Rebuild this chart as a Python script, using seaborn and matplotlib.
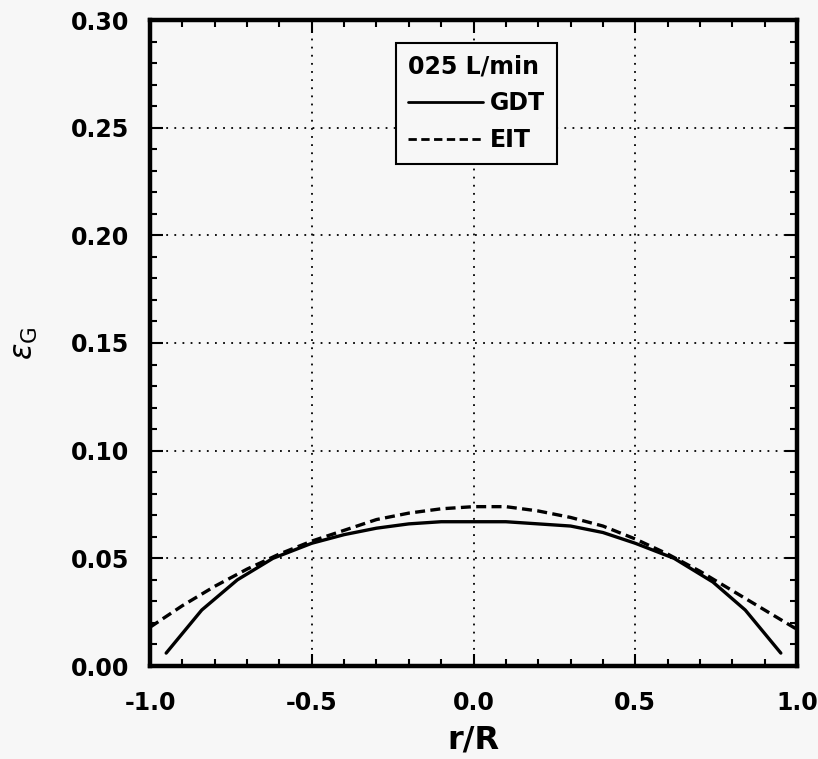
import numpy as np
import pandas as pd
import matplotlib
matplotlib.use("Agg")
import matplotlib.pyplot as plt
import seaborn as sns
from matplotlib.ticker import MultipleLocator
from matplotlib.lines import Line2D

sns.set_theme(style="ticks")
plt.rcParams['font.family'] = ['DejaVu Sans']
plt.rcParams['mathtext.fontset'] = 'dejavusans'
for k in ['text.color', 'axes.labelcolor', 'xtick.color', 'ytick.color', 'axes.edgecolor']:
    plt.rcParams[k] = 'black'

gdt_r = [-0.95, -0.84, -0.73, -0.62, -0.5, -0.4, -0.3, -0.2, -0.1, 0.0, 0.1, 0.2, 0.3, 0.4, 0.5, 0.62, 0.74, 0.84, 0.95]
gdt_eps = [0.006, 0.026, 0.040, 0.050, 0.057, 0.061, 0.064, 0.066, 0.067, 0.067, 0.067, 0.066, 0.065, 0.062, 0.057, 0.050, 0.039, 0.026, 0.006]

eit_r = [-1.0, -0.9, -0.8, -0.7, -0.6, -0.5, -0.4, -0.3, -0.2, -0.1, 0.0, 0.1, 0.2, 0.3, 0.4, 0.5, 0.6, 0.7, 0.8, 0.9, 1.0]
eit_eps = [0.018, 0.028, 0.037, 0.045, 0.052, 0.058, 0.063, 0.068, 0.071, 0.073, 0.074, 0.074, 0.072, 0.069, 0.065, 0.059, 0.052, 0.044, 0.035, 0.026, 0.017]

x_ticks = [-1.0, -0.5, 0.0, 0.5, 1.0]
y_ticks = [0.00, 0.05, 0.10, 0.15, 0.20, 0.25, 0.30]

df = pd.concat([
    pd.DataFrame({'r': gdt_r, 'eps': gdt_eps, 'method': 'GDT'}),
    pd.DataFrame({'r': eit_r, 'eps': eit_eps, 'method': 'EIT'}),
])

bg = '#f7f7f7'
fig = plt.figure(figsize=(8.18, 7.59), dpi=100, facecolor=bg)
ax = fig.add_axes([150/818, 1-666/759, 647/818, 646/759])
ax.set_facecolor(bg)

sns.lineplot(data=df, x='r', y='eps', style='method', style_order=['GDT', 'EIT'],
             dashes={'GDT': '', 'EIT': (3, 1.6)}, color='black', linewidth=2.4,
             ax=ax, sort=False, estimator=None, legend=False)

ax.set_xlim(-1.0, 1.0)
ax.set_ylim(0.0, 0.30)
ax.set_xticks(x_ticks)
ax.set_yticks(y_ticks)
ax.set_xticklabels([f'{v:.1f}' for v in x_ticks])
ax.set_yticklabels([f'{v:.2f}' for v in y_ticks])
ax.xaxis.set_minor_locator(MultipleLocator(0.1))
ax.yaxis.set_minor_locator(MultipleLocator(0.01))
ax.tick_params(which='both', direction='in', top=True, right=True, color='black', width=1.5)
ax.tick_params(which='major', length=9, labelsize=17, labelcolor='black')
ax.tick_params(axis='y', which='major', pad=15)
ax.tick_params(axis='x', which='major', pad=18)
ax.tick_params(which='minor', length=5)
for lab in ax.get_xticklabels() + ax.get_yticklabels():
    lab.set_fontweight('bold')
for s in ax.spines.values():
    s.set_linewidth(3.2)
    s.set_color('black')

ax.grid(True, which='major', linestyle=(0, (1, 3.5)), color='black', linewidth=1.3)

ax.set_xlabel('r/R', fontsize=23, fontweight='bold', labelpad=7, color='black')
ax.set_ylabel(r'$\epsilon_\mathsf{G}$', fontsize=22, labelpad=22, color='black')

handles = [Line2D([], [], color='black', lw=2, ls='-'),
           Line2D([], [], color='black', lw=2, ls=(0, (3, 1.6)))]
leg = ax.legend(handles, ['GDT', 'EIT'], title='025 L/min', loc='upper left',
                bbox_to_anchor=(0.380, 0.965), frameon=True, fancybox=False,
                prop={'weight': 'bold', 'size': 17}, handlelength=3.2,
                handletextpad=0.3, borderpad=0.5, labelspacing=0.55, borderaxespad=0,
                alignment='left')
leg.get_title().set_fontweight('bold')
leg.get_title().set_fontsize(17)
leg.get_title().set_color('black')
for t in leg.get_texts():
    t.set_color('black')
leg.get_frame().set_edgecolor('black')
leg.get_frame().set_linewidth(1.5)
leg.get_frame().set_facecolor(bg)
leg.get_frame().set_alpha(1)

fig.savefig('out.png', dpi=100, facecolor=bg)
